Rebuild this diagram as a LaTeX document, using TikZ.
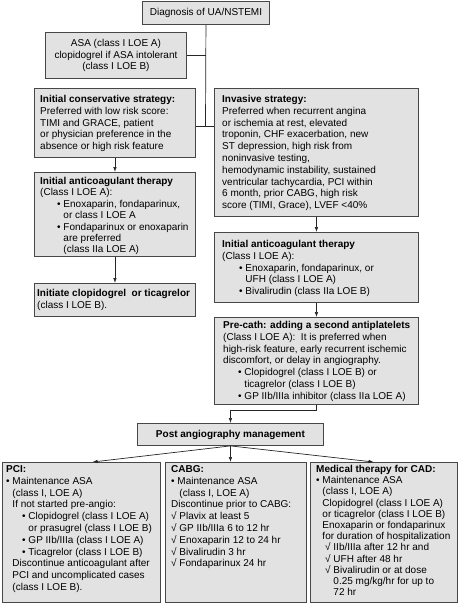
\documentclass[tikz,border=0pt]{standalone}
\usepackage{fontspec}
\setmainfont{Liberation Sans}
\usetikzlibrary{arrows.meta,calc}
\definecolor{boxfill}{gray}{0.885}
\newcommand{\mylines}[1]{\begin{tabular}[t]{@{}l@{}}#1\end{tabular}}
\newcommand{\bi}{\hphantom{•\ }}
\newcommand{\ci}{\hphantom{√\ }}
\begin{document}
\begin{tikzpicture}[x=1pt,y=-1pt,
  box/.style={draw=black!72, line width=0.9pt, fill=boxfill, inner sep=0pt, anchor=north west},
  txt/.style={anchor=base west, inner sep=0pt, font=\fontsize{10}{11.8}\selectfont},
  ctxt/.style={align=center, font=\fontsize{10}{11.8}\selectfont},
  conn/.style={draw=black!85, line width=0.7pt},
  arr/.style={conn, -{Latex[length=5pt,width=3.6pt]}}]
\useasboundingbox (0,0) rectangle (459,604);

% boxes
\node[box, ctxt, minimum width=127pt, minimum height=23pt] (diag) at (142,1) {Diagnosis of UA/NSTEMI};
\node[box, ctxt, minimum width=141pt, minimum height=46pt] (asa) at (45,32) {ASA (class I LOE A)\\clopidogrel if ASA intolerant\\(class I LOE B)};
\node[box, minimum width=161pt, minimum height=69pt] (cons) at (34,88) {};
\node[box, minimum width=204pt, minimum height=128pt] (inv) at (214,88) {};
\node[box, minimum width=161pt, minimum height=84pt] (lac) at (34,172) {};
\node[box, minimum width=161pt, minimum height=33pt] (clop) at (34,283) {};
\node[box, minimum width=204pt, minimum height=70pt] (iac) at (214,232) {};
\node[box, minimum width=204pt, minimum height=87pt] (pre) at (214,317) {};
\node[box, ctxt, minimum width=186pt, minimum height=22pt] (post) at (137,423) {\textbf{Post angiography management}};
\node[box, minimum width=158pt, minimum height=140pt] (pci) at (2,462) {};
\node[box, minimum width=141pt, minimum height=140pt] (cabg) at (165,462) {};
\node[box, minimum width=147pt, minimum height=140pt] (med) at (310,462) {};

% texts
\node[txt] (tcons) at (40,102.5) {\mylines{\textbf{Initial conservative strategy:}\\
Preferred with low risk score:\\
TIMI and GRACE, patient\\
or physician preference in the\\
absence or high risk feature}};

\node[txt] (tinv) at (222,102.5) {\mylines{\textbf{Invasive strategy:}\\
Preferred when recurrent angina\\
or ischemia at rest, elevated\\
troponin, CHF exacerbation, new\\
ST depression, high risk from\\
noninvasive testing,\\
hemodynamic instability, sustained\\
ventricular tachycardia, PCI within\\
6 month, prior CABG, high risk\\
score (TIMI, Grace), LVEF <40\%}};

\node[txt, font=\fontsize{10}{11.4}\selectfont] (tlac) at (40,184.5) {\mylines{\textbf{Initial anticoagulant therapy}\\
(Class I LOE A):\\
\hspace*{17pt}• Enoxaparin, fondaparinux,\\
\hspace*{17pt}\bi or class I LOE A\\
\hspace*{17pt}• Fondaparinux or enoxaparin\\
\hspace*{17pt}\bi are preferred\\
\hspace*{17pt}\bi (class IIa LOE A)}};

\node[txt] (tclop) at (37,296.5) {\mylines{\textbf{Initiate clopidogrel\ \ or ticagrelor}\\
(class I LOE B).}};

\node[txt] (tiac) at (222,247.5) {\mylines{\textbf{Initial anticoagulant therapy}\\
(Class I LOE A):\\
\hspace*{17pt}• Enoxaparin, fondaparinux, or\\
\hspace*{17pt}\bi UFH (class I LOE A)\\
\hspace*{17pt}• Bivalirudin (class IIa LOE B)}};

\node[txt] (tpre) at (223,328.5) {\mylines{\textbf{Pre-cath: adding a second antiplatelets}\\
(Class I LOE A):\ \ It is preferred when\\
high-risk feature, early recurrent ischemic\\
discomfort, or delay in angiography.\\
\hspace*{15pt}• Clopidogrel (class I LOE B) or\\
\hspace*{15pt}\bi ticagrelor (class I LOE B)\\
\hspace*{15pt}• GP IIb/IIIa inhibitor (class IIa LOE A)}};

\node[txt] (tpci) at (6,472.5) {\mylines{\textbf{PCI:}\\
• Maintenance ASA\\
\bi (class I, LOE A)\\
\bi If not started pre-angio:\\
\hspace*{16pt}• Clopidogrel (class I LOE A)\\
\hspace*{16pt}\bi or prasugrel (class I LOE B)\\
\hspace*{16pt}• GP IIb/IIIa (class I LOE A)\\
\hspace*{16pt}• Ticagrelor (class I LOE B)\\
\bi Discontinue anticoagulant after\\
\bi PCI and uncomplicated cases\\
\bi (class I LOE B).}};

\node[txt] (tcabg) at (171,472.5) {\mylines{\textbf{CABG:}\\
• Maintenance ASA\\
\bi\hspace*{2pt}(class I, LOE A)\\
Discontinue prior to CABG:\\
√ Plavix at least 5\\
√ GP IIb/IIIa 6 to 12 hr\\
√ Enoxaparin 12 to 24 hr\\
√ Bivalirudin 3 hr\\
√ Fondaparinux 24 hr}};

\node[txt, font=\fontsize{10}{11.2}\selectfont] (tmed) at (316,472.5) {\mylines{\textbf{Medical therapy for CAD:}\\
• Maintenance ASA\\
\bi (class I, LOE A)\\
\bi Clopidogrel (class I LOE A)\\
\bi or ticagrelor (class I LOE B)\\
\bi Enoxaparin or fondaparinux\\
\bi for duration of hospitalization\\
\hspace*{9pt}√ IIb/IIIa after 12 hr and\\
\hspace*{9pt}√ UFH after 48 hr\\
\hspace*{9pt}√ Bivalirudin or at dose\\
\hspace*{9pt}\ci 0.25 mg/kg/hr for up to\\
\hspace*{9pt}\ci 72 hr}};

% connectors
\coordinate (j) at (205.5,126);
\draw[conn] (diag.south) -- (j);
\draw[conn] (asa.east) -- (asa.east -| j);
\draw[conn] (cons.east |- j) -- (inv.west |- j);
\draw[arr] (cons.south) -- (lac.north);
\draw[arr] (lac.south) -- (clop.north);
\draw[arr] (inv.south) -- (iac.north);
\draw[arr] (iac.south) -- (pre.north);
\draw[arr] (pre.south) -- ++(0,5) -| (post.north);
\draw[arr] (post.south) -- ($(pci.north west)!0.57!(pci.north east)$);
\draw[arr] (post.south) -- (cabg.north -| post.south);
\draw[arr] (post.south) -- ($(med.north west)!0.43!(med.north east)$);
\end{tikzpicture}
\end{document}
